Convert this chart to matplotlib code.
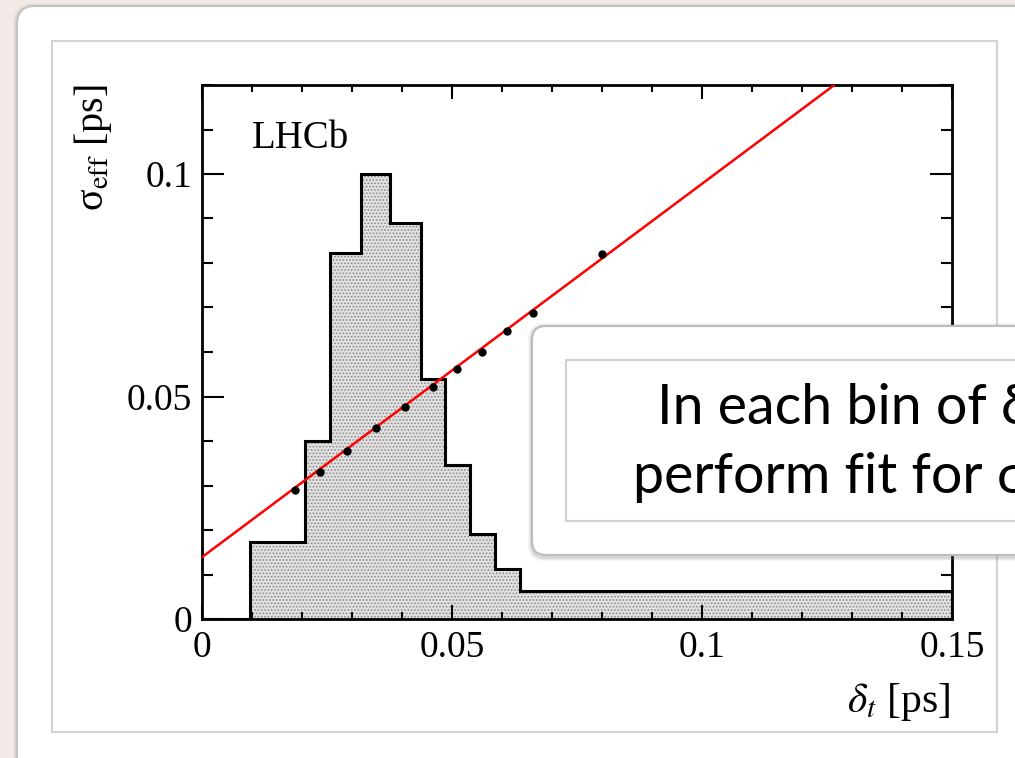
import numpy as np
import matplotlib as mpl
mpl.use("Agg")
import matplotlib.pyplot as plt
from matplotlib.patches import FancyBboxPatch

mpl.rcParams.update({
    "font.family": ["Liberation Serif", "DejaVu Serif"],
    "mathtext.fontset": "stix",
    "hatch.linewidth": 0.8,
})

# histogram of delta_t (variable bins), arbitrary normalisation
edges = [0.0, 0.0096, 0.0206, 0.0256, 0.0318, 0.0376, 0.0438,
         0.0486, 0.0536, 0.0586, 0.0636, 0.15]
counts = [0.0, 0.0174, 0.0401, 0.0822, 0.0999, 0.0889, 0.0539,
          0.0345, 0.0191, 0.0112, 0.0064]

# sigma_eff measured per bin of delta_t
dt_pts = [0.0186, 0.0236, 0.0289, 0.0347, 0.0406, 0.0461,
          0.0509, 0.0559, 0.0610, 0.0662, 0.0800]
sig_pts = [0.0290, 0.0331, 0.0378, 0.0430, 0.0477, 0.0521,
           0.0562, 0.0599, 0.0647, 0.0688, 0.0820]

# linear calibration fit
fit_p0 = 0.0139
fit_p1 = 0.839

W, H = 1015, 758
fig = plt.figure(figsize=(W / 100, H / 100), dpi=100, facecolor="#f2eae6")


def box(x0, y0, x1, y1, **kw):
    # pixel coords from the top-left corner
    p = FancyBboxPatch((x0 / 100, (H - y1) / 100), (x1 - x0) / 100, (y1 - y0) / 100,
                       transform=fig.dpi_scale_trans, **kw)
    fig.patches.append(p)
    return p


# slide panel with soft shadow
for i, a in enumerate([0.05, 0.08, 0.12]):
    box(17 - 4 + i, 6 - 3 + i, 1080, 800, boxstyle="round,pad=0,rounding_size=0.2",
        fc="#808080", ec="none", alpha=a, zorder=-10)
box(17, 6, 1080, 800, boxstyle="round,pad=0,rounding_size=0.18",
    fc="white", ec="#c4c4c4", lw=1.5, zorder=-9)
box(52, 41, 997, 732, boxstyle="square,pad=0", fc="white", ec="#d2d2d2",
    lw=1.5, zorder=-8)

ax = fig.add_axes([202 / W, 1 - 619 / H, 750 / W, 534 / H])

ax.stairs(counts, edges, fill=True, facecolor="#e2e2e2", edgecolor="#8a8a8a",
          lw=0, hatch=".....", zorder=1)
ax.stairs(counts, edges, color="black", lw=2.2, zorder=2)

xf = np.array([0.0, 0.15])
ax.plot(xf, fit_p0 + fit_p1 * xf, color="#ff0000", lw=1.8, zorder=3)
ax.plot(dt_pts, sig_pts, "o", color="black", ms=5, zorder=4)

ax.set_xlim(0, 0.15)
ax.set_ylim(0, 0.12)
ax.set_xticks([0, 0.05, 0.1, 0.15])
ax.set_xticklabels(["0", "0.05", "0.1", "0.15"])
ax.set_yticks([0, 0.05, 0.1])
ax.set_yticklabels(["0", "0.05", "0.1"])
ax.xaxis.set_minor_locator(mpl.ticker.MultipleLocator(0.01))
ax.yaxis.set_minor_locator(mpl.ticker.MultipleLocator(0.01))
ax.tick_params(axis="both", which="both", direction="in", top=True, right=True,
               labelsize=27, width=1.5)
ax.tick_params(axis="x", which="major", length=10, pad=8)
ax.tick_params(axis="x", which="minor", length=5)
ax.tick_params(axis="y", which="major", length=16, pad=7)
ax.tick_params(axis="y", which="minor", length=8)
for s in ax.spines.values():
    s.set_linewidth(2.0)

fig.text(252 / W, 1 - 148 / H, "LHCb", fontsize=28, va="baseline", ha="left")
fig.text(93 / W, 1 - 84 / H, r"σ$_{\mathrm{eff}}$ [ps]", fontsize=29,
         rotation=90, ha="center", va="top")
fig.text(950 / W, 1 - 712 / H, r"$\delta_t$ [ps]", fontsize=30,
         ha="right", va="baseline")

# call-out box laid over the plot
for i, a in enumerate([0.06, 0.10, 0.16]):
    box(532 - 4 + i, 326 - 3 + i, 1080, 558 + 3 - i,
        boxstyle="round,pad=0,rounding_size=0.16", fc="#7a7a7a", ec="none",
        alpha=a, zorder=5)
box(532, 326, 1080, 555, boxstyle="round,pad=0,rounding_size=0.14",
    fc="white", ec="#bdbdbd", lw=1.5, zorder=6)
box(566, 360, 1080, 521, boxstyle="square,pad=0", fc="white", ec="#d0d0d0",
    lw=1.5, zorder=7)

fig.text(657 / W, 1 - 423 / H, "In each bin of δt,", fontsize=40,
         family=["Lato", "DejaVu Sans"], ha="left", va="baseline", zorder=8)
fig.text(633 / W, 1 - 493 / H, "perform fit for σeff", fontsize=40,
         family=["Lato", "DejaVu Sans"], ha="left", va="baseline", zorder=8)

fig.savefig("out.png", dpi=100)
